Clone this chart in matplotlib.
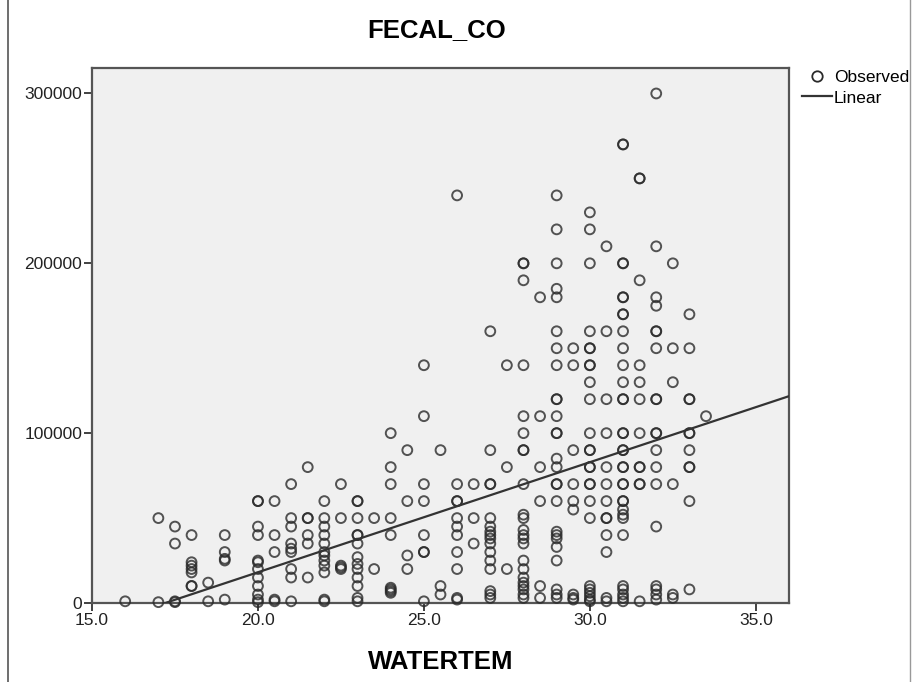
import matplotlib
matplotlib.use("Agg")
import matplotlib.pyplot as plt
from matplotlib.lines import Line2D
import numpy as np

plt.rcParams['font.family'] = ['Liberation Sans', 'DejaVu Sans']

# ---- data ----
temp_levels = [16, 17, 17.5, 18, 18.5, 19, 20, 20.5, 21, 21.5, 22, 22.5, 23, 23.5,
               24, 24.5, 25, 25.5, 26, 26.5, 27, 27.5, 28, 28.5, 29, 29.5, 30, 30.5,
               31, 31.5, 32, 32.5, 33, 33.5]

fecal_by_temp = [
    [1000],
    [50000, 500],
    [45000, 35000, 1000, 500],
    [40000, 24000, 22000, 20000, 18000, 10000, 10000],
    [12000, 1000],
    [40000, 30000, 26000, 25000, 2000],
    [60000, 60000, 45000, 40000, 25000, 24000, 20000, 15000, 10000, 5000, 2000, 500],
    [60000, 40000, 30000, 2000, 1000],
    [70000, 50000, 45000, 35000, 32000, 30000, 20000, 15000, 1000],
    [80000, 50000, 50000, 40000, 35000, 15000],
    [60000, 50000, 45000, 40000, 35000, 30000, 28000, 25000, 22000, 18000, 2000, 1000],
    [70000, 50000, 22000, 21000, 20000],
    [60000, 60000, 50000, 40000, 40000, 35000, 27000, 23000, 20000, 15000, 10000, 3000, 1000],
    [50000, 20000],
    [100000, 80000, 70000, 50000, 40000, 9000, 8000, 7000, 6000],
    [90000, 60000, 28000, 20000],
    [140000, 110000, 70000, 60000, 40000, 30000, 30000, 1000],
    [90000, 10000, 5000],
    [240000, 70000, 60000, 60000, 50000, 45000, 40000, 30000, 20000, 3000, 2000],
    [70000, 50000, 35000],
    [160000, 90000, 70000, 70000, 50000, 45000, 42000, 40000, 38000, 35000, 30000,
     25000, 20000, 7000, 5000, 3000],
    [140000, 80000, 20000],
    [200000, 200000, 190000, 140000, 110000, 100000, 90000, 90000, 70000, 52000, 50000,
     43000, 40000, 38000, 35000, 25000, 20000, 15000, 12000, 10000, 8000, 5000, 3000],
    [180000, 110000, 80000, 60000, 10000, 3000],
    [240000, 220000, 200000, 185000, 180000, 160000, 150000, 140000, 120000, 120000,
     110000, 100000, 100000, 85000, 80000, 70000, 70000, 60000, 42000, 40000, 38000,
     33000, 25000, 8000, 5000, 3000],
    [150000, 140000, 90000, 70000, 60000, 55000, 5000, 3000, 2000],
    [230000, 220000, 200000, 160000, 150000, 150000, 140000, 140000, 130000, 120000,
     100000, 90000, 90000, 80000, 80000, 70000, 70000, 60000, 50000, 10000, 8000, 6000,
     4000, 2000, 1000],
    [210000, 160000, 120000, 100000, 80000, 70000, 60000, 50000, 50000, 40000, 30000,
     3000, 1000],
    [270000, 270000, 200000, 200000, 180000, 180000, 170000, 170000, 160000, 150000,
     140000, 130000, 120000, 120000, 100000, 100000, 90000, 90000, 80000, 80000, 70000,
     70000, 60000, 60000, 55000, 52000, 50000, 40000, 10000, 8000, 5000, 3000, 1000],
    [250000, 250000, 190000, 140000, 130000, 120000, 100000, 80000, 80000, 70000, 70000, 1000],
    [300000, 210000, 180000, 175000, 160000, 160000, 150000, 120000, 120000, 100000,
     100000, 90000, 80000, 70000, 45000, 10000, 8000, 5000, 2000],
    [200000, 150000, 130000, 70000, 5000, 3000],
    [170000, 150000, 120000, 120000, 100000, 100000, 90000, 80000, 80000, 60000, 8000],
    [110000],
]

fit_slope = 6480.0
fit_intercept = -111500.0
fit_x_range = [16.0, 36.0]

x_ticks = [15.0, 20.0, 25.0, 30.0, 35.0]
x_tick_labels = ['15.0', '20.0', '25.0', '30.0', '35.0']
y_ticks = [0, 100000, 200000, 300000]
y_tick_labels = ['0', '100000', '200000', '300000']

# flatten
water_temp = np.concatenate([[t] * len(v) for t, v in zip(temp_levels, fecal_by_temp)])
fecal_co = np.concatenate([np.array(v, dtype=float) for v in fecal_by_temp])

# ---- figure ----
fig = plt.figure(figsize=(9.2, 6.82), dpi=100)
W, H = 920, 682
ax = fig.add_axes([92 / W, 1 - 603 / H, (789 - 92) / W, (603 - 68) / H])
ax.set_facecolor('#F0F0F0')

ax.scatter(water_temp, fecal_co, s=50, facecolors='none', edgecolors='#2a2a2a',
           linewidths=1.4, alpha=0.8, clip_on=False, zorder=3)

fx = np.array(fit_x_range)
ax.plot(fx, fit_intercept + fit_slope * fx, color='#333333', lw=1.6, zorder=4)

ax.set_xlim(15, 36)
ax.set_ylim(0, 315000)
ax.set_xticks(x_ticks)
ax.set_xticklabels(x_tick_labels, fontsize=12.5, color='#222222')
ax.set_yticks(y_ticks)
ax.set_yticklabels(y_tick_labels, fontsize=12.5, color='#222222')
ax.tick_params(direction='out', length=6, width=1.3, color='#333333', pad=1)
for sp in ax.spines.values():
    sp.set_color('#555555')
    sp.set_linewidth(1.6)

ax.set_xlabel('WATERTEM', fontsize=18.5, fontweight='bold', labelpad=16)
fig.text(437 / W, 1 - 30 / H, 'FECAL_CO', fontsize=18.5, fontweight='bold',
         ha='center', va='center')

handles = [Line2D([], [], marker='o', ls='none', mfc='none', mec='#2a2a2a', ms=7.5, mew=1.3),
           Line2D([], [], color='#333333', lw=1.6)]
fig.legend(handles, ['Observed', 'Linear'], loc='upper left',
           bbox_to_anchor=(802 / W, 1 - 70 / H), frameon=False, fontsize=12.5,
           handlelength=1.7, handletextpad=0.15, labelspacing=0.3, borderpad=0,
           borderaxespad=0)

# outer frame lines
fig.add_artist(Line2D([8 / W, 8 / W], [0, 1], color='#555555', lw=1.2))
fig.add_artist(Line2D([910 / W, 910 / W], [0, 1], color='#999999', lw=1.0))

fig.savefig('out.png', dpi=100)
